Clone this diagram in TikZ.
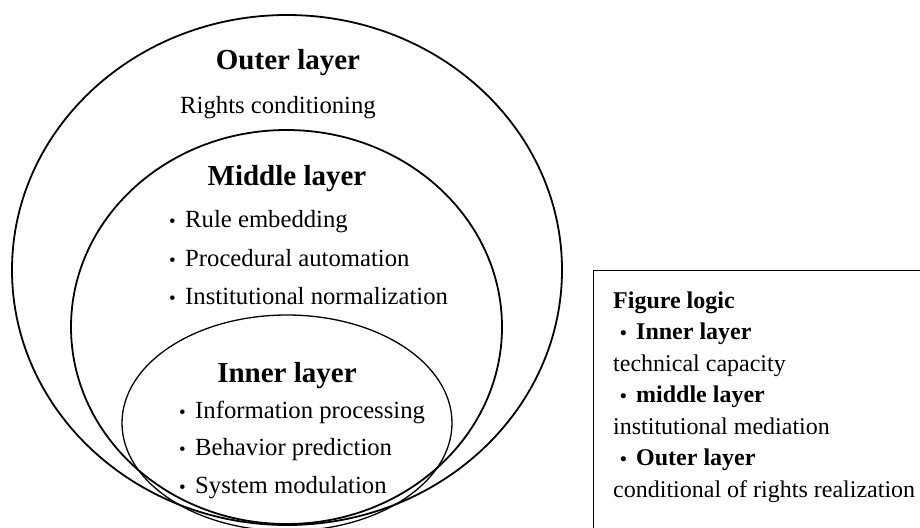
\documentclass[tikz,border=0pt]{standalone}
\usepackage{fontspec}
\setmainfont{Liberation Serif}
\newcommand{\lbul}{\makebox[16pt][l]{\fontsize{19}{19}\selectfont\textbullet}}

\begin{document}
\begin{tikzpicture}[x=1pt,y=-1pt,
	txt/.style={inner sep=0pt,anchor=base west,font=\fontsize{24.7}{29}\selectfont},
	keytxt/.style={inner sep=0pt,anchor=base west,font=\fontsize{24}{28}\selectfont},
	head/.style={inner sep=0pt,anchor=base,font=\fontsize{29}{34}\selectfont\bfseries},
	ring/.style={line width=1.8pt}]
		\useasboundingbox (0,0) rectangle (920,527);
		% the three layers
		\draw [ring] (287,270) ellipse [x radius=275, y radius=255];
		\draw [ring] (286.5,327) ellipse [x radius=215.5, y radius=197];
		\draw [line width=1.3pt] (287,423) ellipse [x radius=165, y radius=108];
		% outer layer
		\node [head] (outer) at (288,70) {Outer layer};
		\node [txt,anchor=base] (rights) at (278,113) {Rights conditioning};
		% middle layer
		\node [head] (middle) at (287,185) {Middle layer};
		\node [txt] (rule) at (169,227) {\lbul Rule embedding};
		\node [txt] (proc) at (169,266) {\lbul Procedural automation};
		\node [txt] (inst) at (169,304) {\lbul Institutional normalization};
		% inner layer
		\node [head] (inner) at (287,382) {Inner layer};
		\node [txt] (info) at (179,418) {\lbul Information processing};
		\node [txt] (behav) at (179,455) {\lbul Behavior prediction};
		\node [txt] (sys) at (179,493) {\lbul System modulation};
		% figure logic box
		\draw [line width=0.9pt] (593,270) rectangle (940,560);
		\node [keytxt,font=\fontsize{24}{28}\selectfont\bfseries] (logic) at (613,308) {Figure logic};
		\node [keytxt,font=\fontsize{24}{28}\selectfont\bfseries] (kinner) at (620,339.5) {\lbul Inner layer};
		\node [keytxt] (tech) at (613,371) {technical capacity};
		\node [keytxt,font=\fontsize{24}{28}\selectfont\bfseries] (kmiddle) at (620,402.5) {\lbul middle layer};
		\node [keytxt] (medi) at (613,434) {institutional mediation};
		\node [keytxt,font=\fontsize{24}{28}\selectfont\bfseries] (kouter) at (620,465.5) {\lbul Outer layer};
		\node [keytxt] (cond) at (613,497) {conditional of rights realization};
	\end{tikzpicture}
\end{document}
